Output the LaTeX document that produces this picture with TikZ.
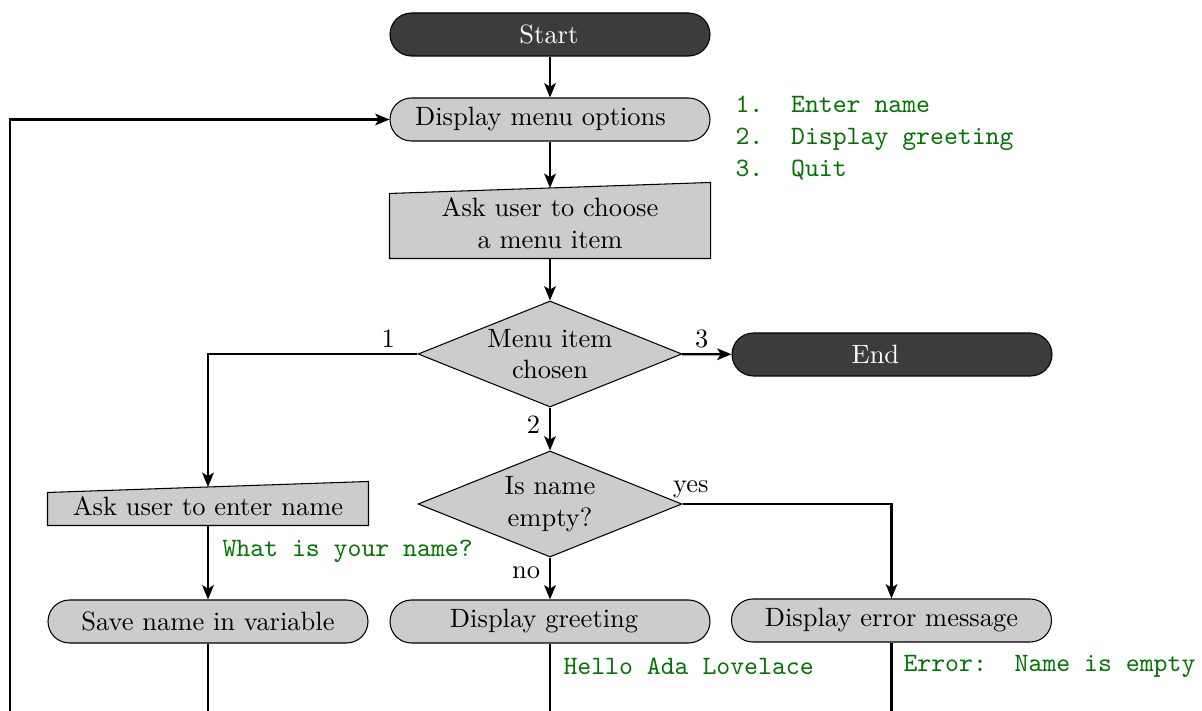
\documentclass[tikz,border=0pt]{standalone}
\usetikzlibrary{shapes.geometric,arrows.meta,backgrounds}
\definecolor{darkfill}{HTML}{3C3C3C}
\definecolor{lightfill}{HTML}{CCCCCC}
\definecolor{codegreen}{RGB}{0,115,0}
\begin{document}
\begin{tikzpicture}[x=0.3777pt,y=-0.3777pt,
  base/.style={rectangle, rounded corners=8.1pt, draw, minimum width=120.86pt, minimum height=16.24pt, inner sep=2pt},
  term/.style={base, fill=darkfill, text=white},
  proc/.style={base, fill=lightfill},
  inbox/.style={rectangle, minimum width=120.86pt, inner sep=2pt, align=center},
  decision/.style={diamond, draw, fill=lightfill, minimum width=99.7pt, minimum height=40.04pt, inner sep=0pt},
  arr/.style={thick, -{Stealth[length=5.4pt,width=4.4pt,inset=1.3pt]}},
  plain/.style={thick},
  lbl/.style={inner sep=2pt},
  code/.style={font=\ttfamily, text=codegreen, inner sep=0pt, align=left}
]
\useasboundingbox (0,0) rectangle (1202,711);

\node[term] (start) at (550,34.5) {Start\kern0.8pt};
\node[proc] (menu) at (550,119.5) {Display menu options\kern7.2pt};
\node[inbox, minimum height=26.25pt] (ask) at (550,223.25) {Ask user to choose\\a menu item};
\node[decision, label={[align=center]center:Menu item\\chosen}] (d1) at (550,354) {};
\node[term] (end) at (892,354.5) {End\kern12.5pt};
\node[decision, label={[align=center]center:Is name\\empty?}] (d2) at (550,504) {};
\node[inbox, minimum height=14.16pt] (name) at (208,506.25) {Ask user to enter name};
\node[proc] (save) at (208,621.5) {Save name in variable};
\node[proc] (greet) at (550,621.5) {Display greeting\kern4.5pt};
\node[proc] (err) at (891.5,620.5) {Display error message};

\begin{scope}[on background layer]
  \draw[fill=lightfill] (ask.south west) -- (ask.south east) -- ([yshift=2.08pt]ask.north east) -- ([yshift=-2.08pt]ask.north west) -- cycle;
  \draw[fill=lightfill] (name.south west) -- (name.south east) -- ([yshift=2.08pt]name.north east) -- ([yshift=-2.08pt]name.north west) -- cycle;
\end{scope}

\node[code, anchor=west] (opts) at (735,138) {1.\ \ Enter name\\2.\ \ Display greeting\\3.\ \ Quit};
\node[code, anchor=west] (q) at (222,551) {What is your name?};
\node[code, anchor=west] (hello) at (563,666) {Hello Ada Lovelace};
\node[code, anchor=west] (errmsg) at (903,666) {Error:\ \ Name is empty};

\coordinate (loop) at (10,711);
\coordinate (b1) at (208,711);
\coordinate (b2) at (550,711);
\coordinate (b3) at (891.5,711);

\draw[arr] (start) -- (menu);
\draw[arr] (menu) -- (ask);
\draw[arr] (ask) -- (d1);
\draw[arr] (d1) -- node[lbl, above, pos=0.4] {3} (end);
\draw[arr] (d1.west) -| node[lbl, above, pos=0.07] {1} (name);
\draw[arr] (d1) -- node[left, pos=0.4] {2} (d2);
\draw[arr] (d2.east) -| node[lbl, above, pos=0.02] {yes} (err);
\draw[arr] (d2) -- node[left, pos=0.35] {no} (greet);
\draw[arr] (name) -- (save);
\draw[plain] (save) -- (b1);
\draw[plain] (greet) -- (b2);
\draw[plain] (err) -- (b3);
\draw[arr] (loop) |- (menu);
\end{tikzpicture}
\end{document}
